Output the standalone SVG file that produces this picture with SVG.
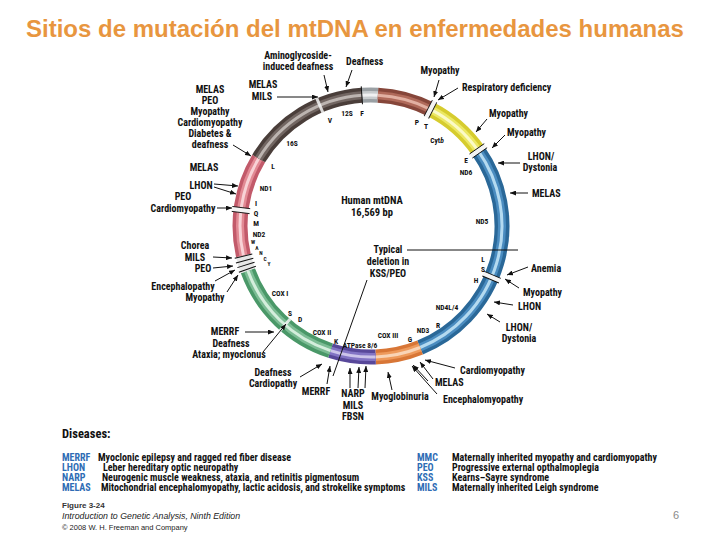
<svg xmlns="http://www.w3.org/2000/svg" xmlns:xlink="http://www.w3.org/1999/xlink" width="720" height="540" viewBox="0 0 720 540">
<style>
text{font-family:"Liberation Sans Narrow","Arial Narrow","Roboto Condensed","Liberation Sans",sans-serif;font-weight:bold;fill:#111}
.lb{font-size:10px}
.in{font-size:7.5px}
.tn{font-size:5.5px}
.ct{font-size:10.5px}
.m{text-anchor:middle}
.title{font-family:"Liberation Sans",Arial,sans-serif;font-size:24px;fill:#e8963f;text-anchor:middle}
.lg{font-size:10px}
.ab{fill:#2f6db5}
.ft{font-family:"Liberation Sans",Arial,sans-serif;font-weight:normal;font-size:8px;fill:#222}
.ar{stroke:#111;stroke-width:1;fill:none;marker-end:url(#ah)}
.ln{stroke:#111;stroke-width:1;fill:none}
.seg path{fill:none}
</style>
<defs>
<marker id="ah" viewBox="0 0 6 5" refX="6" refY="2.5" markerWidth="6" markerHeight="5" markerUnits="userSpaceOnUse" orient="auto"><path d="M0,0 L6,2.5 L0,5 z" fill="#111"/></marker>
<g id="stLight"><rect x="369.5" y="87" width="3" height="16" fill="#f4f4f4" opacity="0.85"/></g>
<g id="stBW"><rect x="368.5" y="86" width="5" height="18" fill="#f4f4f4"/><line x1="368.5" y1="86" x2="368.5" y2="104" stroke="#111" stroke-width="0.9"/><line x1="373.5" y1="86" x2="373.5" y2="104" stroke="#111" stroke-width="0.9"/></g>
<g id="stB"><line x1="371" y1="86" x2="371" y2="104" stroke="#111" stroke-width="1"/></g>
</defs>
<rect width="720" height="540" fill="#fff"/>
<text class="title" x="355" y="37">Sitios de mutación del mtDNA en enfermedades humanas</text>

<g id="ring">
<g class="seg">
<path d="M361.9,95.3 A131,131 0 0 1 377.9,95.2" stroke="#9aa0a4" stroke-width="15"/>
<path d="M361.9,95.3 A131,131 0 0 1 377.9,95.2" stroke="#c8ccce" stroke-width="8"/>
<path d="M361.9,95.3 A131,131 0 0 1 377.9,95.2" stroke="#f0f1f2" stroke-width="3"/>
<path d="M377.9,95.2 A131,131 0 0 1 430.5,109.3" stroke="#86463a" stroke-width="15"/>
<path d="M377.9,95.2 A131,131 0 0 1 430.5,109.3" stroke="#b06a5a" stroke-width="8"/>
<path d="M377.9,95.2 A131,131 0 0 1 430.5,109.3" stroke="#e2b0a2" stroke-width="3"/>
<path d="M430.5,109.3 A131,131 0 0 1 478.3,150.9" stroke="#d6cc2e" stroke-width="15"/>
<path d="M430.5,109.3 A131,131 0 0 1 478.3,150.9" stroke="#ece864" stroke-width="8"/>
<path d="M430.5,109.3 A131,131 0 0 1 478.3,150.9" stroke="#fbfac8" stroke-width="3"/>
<path d="M478.3,150.9 A131,131 0 0 1 420.1,347.5" stroke="#2a6898" stroke-width="15"/>
<path d="M478.3,150.9 A131,131 0 0 1 420.1,347.5" stroke="#4a8cc0" stroke-width="8"/>
<path d="M478.3,150.9 A131,131 0 0 1 420.1,347.5" stroke="#b4daf0" stroke-width="3"/>
<path d="M420.1,347.5 A131,131 0 0 1 375.6,356.9" stroke="#d87636" stroke-width="15"/>
<path d="M420.1,347.5 A131,131 0 0 1 375.6,356.9" stroke="#ee9a5c" stroke-width="8"/>
<path d="M420.1,347.5 A131,131 0 0 1 375.6,356.9" stroke="#f9d4b6" stroke-width="3"/>
<path d="M375.6,356.9 A131,131 0 0 1 330.5,350.6" stroke="#58489a" stroke-width="15"/>
<path d="M375.6,356.9 A131,131 0 0 1 330.5,350.6" stroke="#8274c4" stroke-width="8"/>
<path d="M375.6,356.9 A131,131 0 0 1 330.5,350.6" stroke="#ccc4ea" stroke-width="3"/>
<path d="M330.5,350.6 A131,131 0 0 1 247.9,270.8" stroke="#4a9868" stroke-width="15"/>
<path d="M330.5,350.6 A131,131 0 0 1 247.9,270.8" stroke="#7cbc94" stroke-width="8"/>
<path d="M330.5,350.6 A131,131 0 0 1 247.9,270.8" stroke="#d4eedc" stroke-width="3"/>
<path d="M247.9,270.8 A131,131 0 0 1 243.4,255.5" stroke="#e6e6e6" stroke-width="15"/>
<path d="M243.4,255.5 A131,131 0 0 1 258.7,158.5" stroke="#c25a6a" stroke-width="15"/>
<path d="M243.4,255.5 A131,131 0 0 1 258.7,158.5" stroke="#e28a94" stroke-width="8"/>
<path d="M243.4,255.5 A131,131 0 0 1 258.7,158.5" stroke="#f8d2d6" stroke-width="3"/>
<path d="M258.7,158.5 A131,131 0 0 1 361.9,95.3" stroke="#4a3e3a" stroke-width="15"/>
<path d="M258.7,158.5 A131,131 0 0 1 361.9,95.3" stroke="#726662" stroke-width="8"/>
<path d="M258.7,158.5 A131,131 0 0 1 361.9,95.3" stroke="#bcb4b0" stroke-width="3"/>
</g>
<use xlink:href="#stLight" transform="rotate(337 371 226)"/>
<use xlink:href="#stLight" transform="rotate(221 371 226)"/>
<use xlink:href="#stB" transform="rotate(356 371 226)"/>
<use xlink:href="#stBW" transform="rotate(27 371 226)"/>
<use xlink:href="#stBW" transform="rotate(55 371 226)"/>
<use xlink:href="#stBW" transform="rotate(113 371 226)"/>
<use xlink:href="#stBW" transform="rotate(277 371 226)"/>
<use xlink:href="#stB" transform="rotate(250.7 371 226)"/>
<use xlink:href="#stB" transform="rotate(252.7 371 226)"/>
<use xlink:href="#stB" transform="rotate(254.7 371 226)"/>
<use xlink:href="#stB" transform="rotate(256.7 371 226)"/>
</g>

<g id="ring-labels">
<text class="in" x="330" y="123" text-anchor="middle">V</text>
<text class="in" x="347" y="116" text-anchor="middle">12S</text>
<text class="in" x="362" y="116" text-anchor="middle">F</text>
<text class="in" x="292" y="146" text-anchor="middle">16S</text>
<text class="in" x="273" y="169" text-anchor="middle">L</text>
<text class="in" x="266" y="191" text-anchor="middle">ND1</text>
<text class="in" x="256" y="206" text-anchor="middle">I</text>
<text class="in" x="256" y="216" text-anchor="middle">Q</text>
<text class="in" x="256" y="226" text-anchor="middle">M</text>
<text class="in" x="259" y="237" text-anchor="middle">ND2</text>
<text class="tn" x="253" y="244" text-anchor="middle">W</text>
<text class="tn" x="257" y="249.5" text-anchor="middle">A</text>
<text class="tn" x="261" y="255" text-anchor="middle">N</text>
<text class="tn" x="265" y="260.5" text-anchor="middle">C</text>
<text class="tn" x="269" y="266" text-anchor="middle">Y</text>
<text class="in" x="280" y="296" text-anchor="middle">COX I</text>
<text class="in" x="290" y="316" text-anchor="middle">S</text>
<text class="in" x="300" y="322" text-anchor="middle">D</text>
<text class="in" x="322" y="335" text-anchor="middle">COX II</text>
<text class="in" x="336" y="344" text-anchor="middle">K</text>
<text class="in" x="360" y="348" text-anchor="middle">ATPase 8/6</text>
<text class="in" x="388" y="338" text-anchor="middle">COX III</text>
<text class="in" x="410" y="342" text-anchor="middle">G</text>
<text class="in" x="423" y="333" text-anchor="middle">ND3</text>
<text class="in" x="438" y="328" text-anchor="middle">R</text>
<text class="in" x="447" y="310" text-anchor="middle">ND4L/4</text>
<text class="in" x="476" y="283" text-anchor="middle">H</text>
<text class="in" x="483" y="272" text-anchor="middle">S</text>
<text class="in" x="483" y="262" text-anchor="middle">L</text>
<text class="in" x="482" y="224" text-anchor="middle">ND5</text>
<text class="in" x="466" y="175" text-anchor="middle">ND6</text>
<text class="in" x="466" y="163" text-anchor="middle">E</text>
<text class="in" x="437" y="143" text-anchor="middle">Cyt<tspan font-style="italic">b</tspan></text>
<text class="in" x="417" y="125" text-anchor="middle">P</text>
<text class="in" x="426" y="129" text-anchor="middle">T</text>
</g>

<g id="center">
<text class="ct m" x="372" y="204">Human mtDNA</text>
<text class="ct m" x="372" y="216">16,569 bp</text>
</g>
<g id="deletion">
<text class="lb m" x="388" y="253">Typical</text>
<text class="lb m" x="388" y="265">deletion in</text>
<text class="lb m" x="388" y="277">KSS/PEO</text>
</g>

<g id="n-aminoglycoside"><text class="lb m" x="298" y="59">Aminoglycoside-</text><text class="lb m" x="298" y="70">induced deafness</text></g>
<g id="n-deafness-top"><text class="lb" x="346" y="65">Deafness</text></g>
<g id="n-melas-mils"><text class="lb m" x="263" y="88">MELAS</text><text class="lb m" x="262" y="100">MILS</text></g>
<g id="n-rrna-block"><text class="lb m" x="210" y="92.5">MELAS</text><text class="lb m" x="210" y="103.5">PEO</text><text class="lb m" x="210" y="114.5">Myopathy</text><text class="lb m" x="210" y="125.5">Cardiomyopathy</text><text class="lb m" x="210" y="136.5">Diabetes &amp;</text><text class="lb m" x="210" y="147.5">deafness</text></g>
<g id="n-melas-l"><text class="lb m" x="204" y="171">MELAS</text></g>
<g id="n-lhon-l"><text class="lb m" x="201" y="188.5">LHON</text></g>
<g id="n-peo-card"><text class="lb m" x="183" y="199.5">PEO</text><text class="lb m" x="183" y="211.5">Cardiomyopathy</text></g>
<g id="n-chorea"><text class="lb m" x="195" y="248.5">Chorea</text><text class="lb m" x="195" y="260.5">MILS</text></g>
<g id="n-peo-l2"><text class="lb m" x="203" y="271.5">PEO</text></g>
<g id="n-enceph"><text class="lb m" x="183" y="289.5">Encephalopathy</text></g>
<g id="n-myo-l"><text class="lb m" x="205" y="300.5">Myopathy</text></g>
<g id="n-merrf-l"><text class="lb m" x="225" y="334.5">MERRF</text><text class="lb m" x="231" y="346.5">Deafness</text><text class="lb m" x="229" y="357.5">Ataxia; myoclonus</text></g>
<g id="n-deaf-cardio"><text class="lb m" x="273" y="375.5">Deafness</text><text class="lb m" x="273" y="386.5">Cardiopathy</text></g>
<g id="n-merrf-b"><text class="lb m" x="316" y="394.5">MERRF</text></g>
<g id="n-narp"><text class="lb m" x="353" y="396.5">NARP</text><text class="lb m" x="353" y="408.5">MILS</text><text class="lb m" x="353" y="419.5">FBSN</text></g>
<g id="n-myoglob"><text class="lb m" x="400" y="399.5">Myoglobinuria</text></g>
<g id="n-cardio-r"><text class="lb" x="460" y="373.5">Cardiomyopathy</text></g>
<g id="n-melas-b"><text class="lb" x="435" y="385.5">MELAS</text></g>
<g id="n-encephmyo"><text class="lb" x="443" y="402.5">Encephalomyopathy</text></g>
<g id="n-lhon-dys-b"><text class="lb m" x="519" y="330.5">LHON/</text><text class="lb m" x="519" y="341.5">Dystonia</text></g>
<g id="n-lhon-r"><text class="lb" x="518" y="309.5">LHON</text></g>
<g id="n-myo-r3"><text class="lb" x="523" y="295.5">Myopathy</text></g>
<g id="n-anemia"><text class="lb" x="531" y="271.5">Anemia</text></g>
<g id="n-melas-r"><text class="lb" x="532" y="196.5">MELAS</text></g>
<g id="n-lhon-dys-t"><text class="lb m" x="541" y="159.5">LHON/</text><text class="lb m" x="540" y="170.5">Dystonia</text></g>
<g id="n-myo-r2"><text class="lb" x="507" y="135.5">Myopathy</text></g>
<g id="n-myo-r1"><text class="lb" x="489" y="116.5">Myopathy</text></g>
<g id="n-resp"><text class="lb" x="462" y="90.5">Respiratory deficiency</text></g>
<g id="n-myo-top"><text class="lb m" x="440" y="73.5">Myopathy</text></g>

<g id="connectors">
<line class="ar" x1="324" y1="75" x2="328" y2="92"/>
<line class="ar" x1="352" y1="70" x2="346" y2="87"/>
<line class="ar" x1="277" y1="97" x2="318" y2="97"/>
<line class="ar" x1="233" y1="145" x2="251" y2="156"/>
<line class="ar" x1="439" y1="80" x2="434" y2="97"/>
<line class="ar" x1="458" y1="88" x2="438" y2="100"/>
<line class="ar" x1="487" y1="119" x2="476" y2="132"/>
<line class="ar" x1="505" y1="135" x2="492" y2="148"/>
<line class="ar" x1="520" y1="163" x2="498" y2="163"/>
<line class="ar" x1="528" y1="193" x2="510" y2="193"/>
<line class="ar" x1="528" y1="267" x2="507" y2="275"/>
<line class="ar" x1="519" y1="288" x2="505" y2="279"/>
<line class="ar" x1="513" y1="305" x2="494" y2="302"/>
<line class="ar" x1="500" y1="322" x2="487" y2="314"/>
<line class="ar" x1="455" y1="368" x2="425" y2="360"/>
<line class="ar" x1="433" y1="379" x2="420" y2="362"/>
<line class="ar" x1="428" y1="381" x2="413" y2="365"/>
<line class="ar" x1="437" y1="394" x2="412" y2="366"/>
<line class="ar" x1="392" y1="390" x2="388" y2="372"/>
<line class="ar" x1="350" y1="388" x2="350" y2="368"/>
<line class="ar" x1="358" y1="388" x2="359" y2="367"/>
<line class="ar" x1="365" y1="388" x2="366" y2="366"/>
<line class="ar" x1="327" y1="384" x2="330" y2="366"/>
<line class="ar" x1="300" y1="377" x2="322" y2="364"/>
<line class="ln" x1="367" y1="280" x2="333" y2="376"/>
<line class="ln" x1="407" y1="250" x2="518" y2="250"/>
<line class="ar" x1="263" y1="352" x2="286" y2="324"/>
<line class="ar" x1="245" y1="332" x2="274" y2="332"/>
<line class="ar" x1="227" y1="292" x2="238" y2="275"/>
<line class="ar" x1="215" y1="281" x2="235" y2="270"/>
<line class="ar" x1="213" y1="268" x2="233" y2="266"/>
<line class="ar" x1="213" y1="257" x2="232" y2="258"/>
<line class="ar" x1="217" y1="208" x2="232" y2="208"/>
<line class="ar" x1="214" y1="184" x2="238" y2="186"/>
<line class="ar" x1="214" y1="187" x2="236" y2="194"/>
</g>

<g id="legend">
<text x="62" y="438" style="font-size:12.5px">Diseases:</text>
<text class="lg ab" x="62" y="461">MERRF</text><text class="lg" x="98" y="461">Myoclonic epilepsy and ragged red fiber disease</text>
<text class="lg ab" x="62" y="471">LHON</text><text class="lg" x="103" y="471">Leber hereditary optic neuropathy</text>
<text class="lg ab" x="62" y="481">NARP</text><text class="lg" x="102" y="481">Neurogenic muscle weakness, ataxia, and retinitis pigmentosum</text>
<text class="lg ab" x="62" y="491">MELAS</text><text class="lg" x="101" y="491">Mitochondrial encephalomyopathy, lactic acidosis, and strokelike symptoms</text>
<text class="lg ab" x="417" y="461">MMC</text><text class="lg" x="452" y="461">Maternally inherited myopathy and cardiomyopathy</text>
<text class="lg ab" x="417" y="471">PEO</text><text class="lg" x="452" y="471">Progressive external opthalmoplegia</text>
<text class="lg ab" x="417" y="481">KSS</text><text class="lg" x="452" y="481">Kearns–Sayre syndrome</text>
<text class="lg ab" x="417" y="491">MILS</text><text class="lg" x="452" y="491">Maternally inherited Leigh syndrome</text>
<text class="ft" x="62" y="508" style="font-weight:bold;fill:#333">Figure 3-24</text>
<text class="ft" x="62" y="519" style="font-style:italic;font-size:8.8px">Introduction to Genetic Analysis, Ninth Edition</text>
<text class="ft" x="62" y="530" style="font-size:7.5px">© 2008 W. H. Freeman and Company</text>
</g>
<text x="673" y="519" style="font-family:'Liberation Sans',Arial,sans-serif;font-weight:normal;font-size:11px;fill:#8a8a8a">6</text>
</svg>
